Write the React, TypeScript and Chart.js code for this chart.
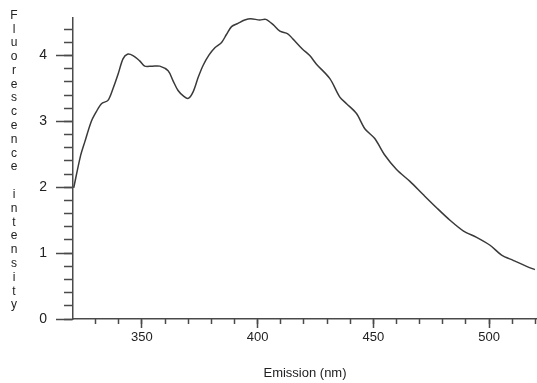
import React, { useEffect, useRef } from 'react';
import { Chart, registerables } from 'chart.js';

Chart.register(...registerables);

// Emission wavelength (nm)
const wavelengths = [
  320.5, 323.4, 325.3, 328.1, 330.3, 332.5, 335.3, 337.5, 339.7, 341.8,
  343.7, 346.1, 349.0, 351.2, 354.5, 357.7, 361.3, 363.4, 365.6, 368.1,
  370.0, 372.1, 374.3, 376.4, 379.0, 381.5, 384.4, 386.5, 388.7, 391.5,
  394.4, 397.0, 400.9, 403.5, 406.7, 409.6, 413.0, 415.3, 419.3, 422.5,
  425.4, 431.2, 435.5, 438.4, 442.7, 446.3, 450.6, 454.9, 460.0, 465.8,
  471.5, 477.3, 483.1, 488.8, 494.6, 500.4, 505.4, 510.4, 516.2, 519.8,
];
// Fluorescence intensity
const intensity = [
  1.99, 2.47, 2.69, 3.0, 3.15, 3.27, 3.32, 3.5, 3.72, 3.95,
  4.02, 4.0, 3.92, 3.84, 3.84, 3.84, 3.77, 3.62, 3.47, 3.38,
  3.35, 3.45, 3.67, 3.85, 4.01, 4.12, 4.2, 4.32, 4.44, 4.49,
  4.54, 4.56, 4.54, 4.55, 4.47, 4.37, 4.33, 4.25, 4.1, 4.0,
  3.87, 3.65, 3.37, 3.27, 3.12, 2.89, 2.74, 2.49, 2.27, 2.09,
  1.89, 1.69, 1.5, 1.34, 1.24, 1.12, 0.97, 0.89, 0.8, 0.75,
];

const xRange = [320.2, 520.7];
const yRange = [0, 4.58];
const xMajorTicks = [350, 400, 450, 500];
const xMinorTicks = [330, 340, 350, 360, 370, 380, 390, 400, 410, 420, 430, 440, 450, 460, 470, 480, 490, 500, 510, 520];
const yMajorTicks = [0, 1, 2, 3, 4];
const yMinorTicks = [
  0, 0.2, 0.4, 0.6, 0.8, 1, 1.2, 1.4, 1.6, 1.8, 2, 2.2, 2.4, 2.6, 2.8,
  3, 3.2, 3.4, 3.6, 3.8, 4, 4.2, 4.4,
];
const xTitle = 'Emission (nm)';
const yTitle = 'Fluorescence intensity';

const FONT = "'Liberation Sans', Arial, sans-serif";
const AXIS = '#4a4a4a';

const setTicks = (values: number[]) => (s: any) => {
  s.ticks = values.map((value) => ({ value }));
};

const verticalTitle = {
  id: 'verticalTitle',
  afterDraw(chart: any) {
    const { ctx, chartArea } = chart;
    const chars = yTitle.split('');
    const top = chartArea.top - 2;
    const bottom = chartArea.bottom - 14;
    const step = (bottom - top) / (chars.length - 1);
    ctx.save();
    ctx.font = `12px ${FONT}`;
    ctx.fillStyle = '#222';
    ctx.textAlign = 'center';
    ctx.textBaseline = 'middle';
    chars.forEach((c: string, i: number) => ctx.fillText(c, 14, top + i * step));
    ctx.restore();
  },
};

export default function App() {
  const ref = useRef<HTMLCanvasElement | null>(null);
  useEffect(() => {
    document.body.style.margin = '0';
    const canvas = ref.current;
    if (!canvas) return;
    const chart = new Chart(canvas, {
      type: 'line',
      data: {
        datasets: [
          {
            data: wavelengths.map((x, i) => ({ x, y: intensity[i] })),
            borderColor: '#3a3a3a',
            borderWidth: 1.5,
            pointRadius: 0,
            tension: 0.3,
            xAxisID: 'x',
            yAxisID: 'y',
          },
        ],
      },
      options: {
        animation: false,
        responsive: false,
        events: [],
        layout: { padding: { top: 16, left: 0, right: 0, bottom: 0 } },
        plugins: { legend: { display: false }, tooltip: { enabled: false } },
        scales: {
          x: {
            type: 'linear',
            position: 'bottom',
            weight: 1,
            min: xRange[0],
            max: xRange[1],
            afterBuildTicks: setTicks(xMajorTicks),
            afterFit: (s: any) => { s.height = 64; },
            border: { display: true, color: AXIS, width: 1.5 },
            grid: { drawOnChartArea: false, tickLength: 9, tickColor: AXIS, tickWidth: 1.5 },
            ticks: {
              autoSkip: false,
              maxRotation: 0,
              padding: 2,
              color: '#222',
              font: { family: FONT, size: 13 },
            },
            title: {
              display: true,
              text: xTitle,
              color: '#222',
              padding: { top: 0, bottom: 2 },
              font: { family: FONT, size: 13 },
            },
          },
          xMinor: {
            type: 'linear',
            position: 'bottom',
            weight: 0,
            min: xRange[0],
            max: xRange[1],
            afterBuildTicks: setTicks(xMinorTicks),
            afterFit: (s: any) => { s.height = 0; },
            border: { display: false },
            grid: { drawOnChartArea: false, tickLength: 5, tickColor: AXIS, tickWidth: 1.5 },
            ticks: { display: false, autoSkip: false },
          },
          y: {
            type: 'linear',
            position: 'left',
            weight: 1,
            min: yRange[0],
            max: yRange[1],
            afterBuildTicks: setTicks(yMajorTicks),
            afterFit: (s: any) => { s.width = 73; },
            border: { display: true, color: AXIS, width: 1.5 },
            grid: { drawOnChartArea: false, tickLength: 17, tickColor: AXIS, tickWidth: 1.5 },
            ticks: {
              autoSkip: false,
              padding: 9,
              color: '#222',
              font: { family: FONT, size: 14 },
            },
          },
          yMinor: {
            type: 'linear',
            position: 'left',
            weight: 0,
            min: yRange[0],
            max: yRange[1],
            afterBuildTicks: setTicks(yMinorTicks),
            afterFit: (s: any) => { s.width = 0; },
            border: { display: false },
            grid: { drawOnChartArea: false, tickLength: 9, tickColor: AXIS, tickWidth: 1.5 },
            ticks: { display: false, autoSkip: false },
          },
        },
      } as any,
      plugins: [verticalTitle],
    });
    return () => chart.destroy();
  }, []);
  return (
    <div style={{ width: 537, height: 383 }}>
      <canvas ref={ref} width={537} height={383} />
    </div>
  );
}
